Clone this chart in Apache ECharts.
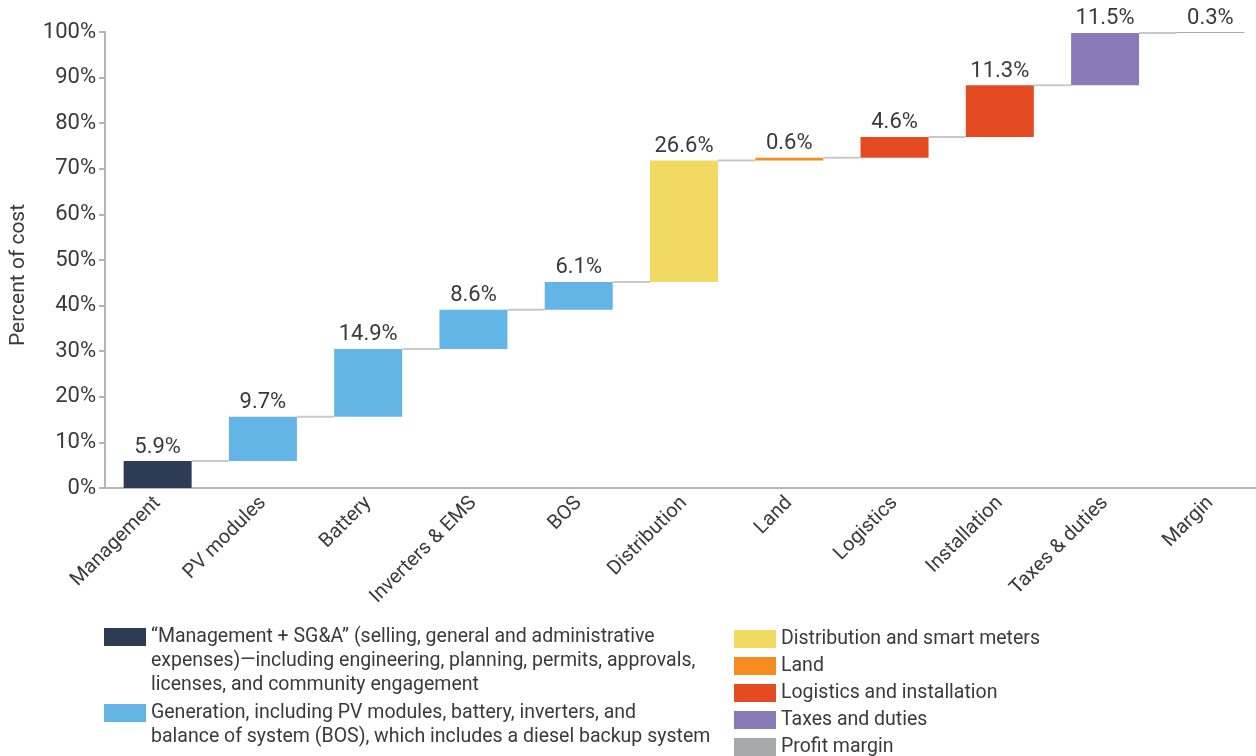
<!DOCTYPE html>
<html>
<head>
<meta charset="utf-8">
<script src="https://cdn.jsdelivr.net/npm/echarts@6/dist/echarts.min.js"></script>
<style>
  html, body { margin: 0; padding: 0; background: #fff; }
  #chart { width: 1256px; height: 756px; }
</style>
</head>
<body>
<div id="chart"></div>
<script>
// categories and values (percent of cost)
var categories = ['Management', 'PV modules', 'Battery', 'Inverters & EMS', 'BOS',
  'Distribution', 'Land', 'Logistics', 'Installation', 'Taxes & duties', 'Margin'];
var shares = [5.9, 9.7, 14.9, 8.6, 6.1, 26.6, 0.6, 4.6, 11.3, 11.5, 0.3];

// which colour group each bar belongs to
var groupOf = [0, 1, 1, 1, 1, 2, 3, 4, 4, 5, 6];
var groupNames = ['Management', 'Generation', 'Distribution', 'Land', 'Logistics', 'Taxes', 'Margin'];
var groupLabels = [
  '\u201cManagement + SG&A\u201d (selling, general and administrative\nexpenses)\u2014including engineering, planning, permits, approvals,\nlicenses, and community engagement',
  'Generation, including PV modules, battery, inverters, and\nbalance of system (BOS), which includes a diesel backup system',
  'Distribution and smart meters',
  'Land',
  'Logistics and installation',
  'Taxes and duties',
  'Profit margin'
];
var groupColors = ['#2e3b55', '#63b5e5', '#f2d962', '#f68b1f', '#e54b22', '#8a7bb8', '#a7a9ac'];

var yTicks = [0, 10, 20, 30, 40, 50, 60, 70, 80, 90, 100];

// running base of each bar
var bases = [];
var run = 0;
shares.forEach(function (v) { bases.push(+run.toFixed(1)); run += v; });
var tops = shares.map(function (v, i) { return +(bases[i] + v).toFixed(1); });

var BAR_W = 0.646;
var textColor = '#3a3a3a';
var font = 'Roboto';

var chart = echarts.init(document.getElementById('chart'));

var series = [{
  name: 'base',
  type: 'bar',
  stack: 'w',
  barWidth: (BAR_W * 100) + '%',
  itemStyle: { color: 'transparent' },
  silent: true,
  data: bases
}];

groupNames.forEach(function (g, gi) {
  series.push({
    name: g,
    type: 'bar',
    stack: 'w',
    barWidth: (BAR_W * 100) + '%',
    itemStyle: { color: groupColors[gi] },
    label: {
      show: true,
      position: 'top',
      distance: 3,
      formatter: '{c}%',
      fontFamily: font,
      fontSize: 22,
      color: textColor
    },
    data: shares.map(function (v, i) { return groupOf[i] === gi ? v : '-'; })
  });
});

// connectors from the top of each bar to the next bar
series.push({
  name: 'connector',
  type: 'custom',
  silent: true,
  z: 1,
  data: tops.slice(0, tops.length - 1).map(function (t, i) { return [i, t]; }),
  renderItem: function (params, api) {
    var i = api.value(0);
    var y = api.value(1);
    var a = api.coord([i, y]);
    var b = api.coord([i + 1, y]);
    var half = api.size([1, 0])[0] * BAR_W / 2;
    return {
      type: 'line',
      shape: { x1: a[0] + half, y1: a[1], x2: b[0] - half, y2: a[1] },
      style: { stroke: '#c9c9c9', lineWidth: 2 }
    };
  }
});

// legend: blank lines in front keep the first text line level with the swatch
function legendText(n) {
  var t = groupLabels[groupNames.indexOf(n)];
  var lines = t.split('\n').length;
  var pre = '';
  for (var k = 1; k < lines; k++) pre += '\n';
  return pre + t;
}

function legendBlock(names, left, top, gap) {
  return {
    orient: 'vertical',
    left: left,
    top: top,
    height: 400,
    padding: 0,
    itemGap: gap,
    itemWidth: 42,
    itemHeight: 18,
    icon: 'rect',
    selectedMode: false,
    textStyle: { fontFamily: font, fontSize: 19.5, lineHeight: 24, color: textColor },
    formatter: legendText,
    data: names
  };
}

chart.setOption({
  animation: false,
  grid: { left: 105, right: -7, top: 32, bottom: 268, outerBoundsMode: 'none' },
  legend: [
    legendBlock([groupNames[0]], 104, 577, 0),
    legendBlock([groupNames[1]], 104, 677, 0),
    legendBlock(groupNames.slice(2), 734, 627, 3)
  ],
  xAxis: {
    type: 'category',
    data: categories,
    axisLine: { lineStyle: { color: '#b5b5b5', width: 2 } },
    axisTick: { show: false },
    axisLabel: {
      interval: 0,
      rotate: 45,
      margin: 12,
      fontFamily: font,
      fontSize: 20,
      color: textColor
    }
  },
  yAxis: {
    type: 'value',
    min: yTicks[0],
    max: yTicks[yTicks.length - 1],
    interval: 10,
    name: 'Percent of cost',
    nameLocation: 'middle',
    nameGap: 76,
    nameTextStyle: { fontFamily: font, fontSize: 21, color: textColor, padding: [0, 30, 0, 0] },
    axisLine: { show: true, lineStyle: { color: '#b5b5b5', width: 2 } },
    axisTick: { show: true, length: 6, lineStyle: { color: '#b5b5b5', width: 2 } },
    splitLine: { show: false },
    axisLabel: {
      formatter: '{value}%',
      margin: 9,
      fontFamily: font,
      fontSize: 22,
      color: textColor
    }
  },
  series: series
});
</script>
</body>
</html>
